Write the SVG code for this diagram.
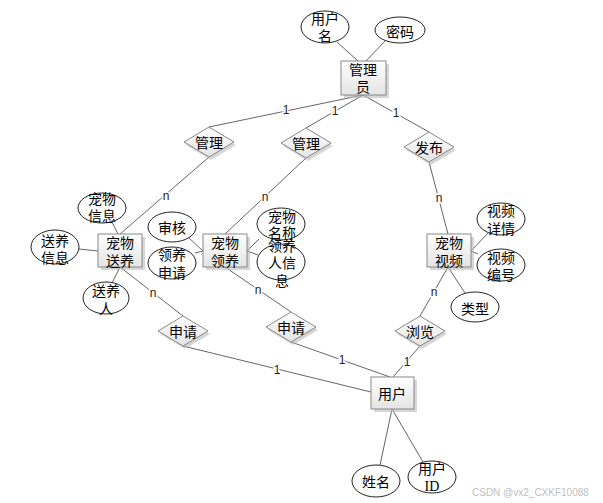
<svg xmlns="http://www.w3.org/2000/svg" width="603" height="503" viewBox="0 0 603 503">
<defs>
<linearGradient id="g" x1="0" y1="0" x2="0" y2="1">
<stop offset="0" stop-color="#ffffff"/>
<stop offset="1" stop-color="#e4e4e4"/>
</linearGradient>
</defs>
<style>
text{font-family:"Noto Sans CJK SC","Liberation Sans",sans-serif;font-size:14px;fill:#000;text-anchor:middle;dominant-baseline:central}
.c line{stroke:#666;stroke-width:1}
.e{fill:#fff;stroke:#222;stroke-width:1}
.b{fill:url(#g);stroke:#888;stroke-width:1}
.s{fill:#bbb;opacity:0.6}
.lb{font-family:"Liberation Sans",sans-serif;font-size:12px;fill:#222;stroke:#fff;stroke-width:3;paint-order:stroke}
.wm{font-family:"Liberation Sans",sans-serif;font-size:10px;fill:#c0c0c0;text-anchor:start}
</style>
<rect width="603" height="503" fill="#fff"/>
<g class="c" id="connectors">
<line x1="337" y1="42" x2="358" y2="61"/>
<line x1="385" y1="41" x2="366" y2="61"/>
<line x1="363" y1="95" x2="209" y2="127"/>
<line x1="363" y1="95" x2="306" y2="128"/>
<line x1="363" y1="95" x2="429" y2="132"/>
<line x1="209" y1="157" x2="120" y2="234"/>
<line x1="306" y1="158" x2="225" y2="234"/>
<line x1="429" y1="162" x2="448" y2="234"/>
<line x1="112" y1="222" x2="118" y2="234"/>
<line x1="79" y1="249" x2="98" y2="251"/>
<line x1="112" y1="283" x2="120" y2="267"/>
<line x1="120" y1="267" x2="183" y2="316"/>
<line x1="188" y1="237" x2="203" y2="251"/>
<line x1="195" y1="253" x2="203" y2="251"/>
<line x1="247" y1="251" x2="259" y2="239"/>
<line x1="247" y1="251" x2="258" y2="255"/>
<line x1="225" y1="267" x2="291" y2="312"/>
<line x1="471" y1="251" x2="488" y2="233"/>
<line x1="471" y1="251" x2="478" y2="254"/>
<line x1="448" y1="267" x2="465" y2="293"/>
<line x1="448" y1="267" x2="420" y2="316"/>
<line x1="183" y1="346" x2="371" y2="392"/>
<line x1="291" y1="342" x2="390" y2="377"/>
<line x1="420" y1="346" x2="393" y2="377"/>
<line x1="392" y1="409" x2="380" y2="465"/>
<line x1="392" y1="409" x2="423" y2="462"/>
<text class="lb" x="286" y="110">1</text>
<text class="lb" x="335" y="111">1</text>
<text class="lb" x="396" y="113">1</text>
<text class="lb" x="277" y="370">1</text>
<text class="lb" x="342" y="360">1</text>
<text class="lb" x="407" y="362">1</text>
<text class="lb" x="166" y="196">n</text>
<text class="lb" x="265" y="197">n</text>
<text class="lb" x="439" y="198">n</text>
<text class="lb" x="153" y="293">n</text>
<text class="lb" x="258" y="290">n</text>
<text class="lb" x="434" y="292">n</text>
</g>
<g id="admin"><rect class="s" x="344" y="64" width="45" height="34"/><rect class="b" x="341" y="61" width="45" height="34"/><text x="363" y="69">管理</text><text x="363" y="86">员</text></g>
<g id="attr-username"><ellipse class="e" cx="325" cy="27" rx="24" ry="16"/><text x="325" y="18">用户</text><text x="325" y="35">名</text></g>
<g id="attr-password"><ellipse class="e" cx="400" cy="30" rx="25" ry="13"/><text x="400" y="31">密码</text></g>
<g id="rel-manage1"><polygon class="s" points="211,130 236,145 211,160 186,145"/><polygon class="b" points="209,127 234,142 209,157 184,142"/><text x="209" y="142">管理</text></g>
<g id="rel-manage2"><polygon class="s" points="308,131 333,146 308,161 283,146"/><polygon class="b" points="306,128 331,143 306,158 281,143"/><text x="306" y="143">管理</text></g>
<g id="rel-publish"><polygon class="s" points="431,135 456,150 431,165 406,150"/><polygon class="b" points="429,132 454,147 429,162 404,147"/><text x="429" y="147">发布</text></g>
<g id="pet-giveaway"><rect class="s" x="101" y="237" width="44" height="33"/><rect class="b" x="98" y="234" width="44" height="33"/><text x="120" y="242">宠物</text><text x="120" y="260">送养</text></g>
<g id="attr-petinfo"><ellipse class="e" cx="102" cy="208" rx="24" ry="15"/><text x="102" y="198">宠物</text><text x="102" y="215">信息</text></g>
<g id="attr-giveinfo"><ellipse class="e" cx="55" cy="247" rx="24" ry="17"/><text x="55" y="240">送养</text><text x="55" y="257">信息</text></g>
<g id="attr-giver"><ellipse class="e" cx="106" cy="298" rx="23" ry="16"/><text x="106" y="290">送养</text><text x="106" y="308">人</text></g>
<g id="attr-review"><ellipse class="e" cx="172" cy="227" rx="24" ry="15"/><text x="172" y="227">审核</text></g>
<g id="attr-adoptapply"><ellipse class="e" cx="172" cy="263" rx="24" ry="16"/><text x="172" y="254">领养</text><text x="172" y="272">申请</text></g>
<g id="pet-adopt"><rect class="s" x="206" y="237" width="44" height="33"/><rect class="b" x="203" y="234" width="44" height="33"/><text x="225" y="242">宠物</text><text x="225" y="260">领养</text></g>
<g id="attr-petname"><ellipse class="e" cx="281" cy="224" rx="24" ry="16"/><text x="282" y="216">宠物</text><text x="282" y="232">名称</text></g>
<g id="attr-adopterinfo"><ellipse class="e" cx="281" cy="262" rx="24" ry="18"/><text x="282" y="245">领养</text><text x="282" y="262">人信</text><text x="282" y="280">息</text></g>
<g id="pet-video"><rect class="s" x="430" y="237" width="44" height="33"/><rect class="b" x="427" y="234" width="44" height="33"/><text x="449" y="242">宠物</text><text x="449" y="260">视频</text></g>
<g id="attr-videodetail"><ellipse class="e" cx="501" cy="219" rx="24" ry="16"/><text x="501" y="210">视频</text><text x="501" y="228">详情</text></g>
<g id="attr-videoid"><ellipse class="e" cx="501" cy="265" rx="24" ry="16"/><text x="501" y="257">视频</text><text x="501" y="274">编号</text></g>
<g id="attr-type"><ellipse class="e" cx="475" cy="307" rx="24" ry="15"/><text x="475" y="308">类型</text></g>
<g id="rel-apply1"><polygon class="s" points="185,319 210,334 185,349 160,334"/><polygon class="b" points="183,316 208,331 183,346 158,331"/><text x="183" y="331">申请</text></g>
<g id="rel-apply2"><polygon class="s" points="293,315 318,330 293,345 268,330"/><polygon class="b" points="291,312 316,327 291,342 266,327"/><text x="291" y="327">申请</text></g>
<g id="rel-browse"><polygon class="s" points="422,319 447,334 422,349 397,334"/><polygon class="b" points="420,316 445,331 420,346 395,331"/><text x="420" y="331">浏览</text></g>
<g id="user"><rect class="s" x="374" y="380" width="43" height="32"/><rect class="b" x="371" y="377" width="43" height="32"/><text x="392" y="393">用户</text></g>
<g id="attr-name"><ellipse class="e" cx="376" cy="481" rx="24" ry="16"/><text x="376" y="481">姓名</text></g>
<g id="attr-userid"><ellipse class="e" cx="432" cy="477" rx="24" ry="16"/><text x="432" y="468">用户</text><text x="432" y="486" style="font-family:'Liberation Serif',serif">ID</text></g>
<text class="wm" x="472" y="492">CSDN @vx2_CXKF10088</text>
</svg>
